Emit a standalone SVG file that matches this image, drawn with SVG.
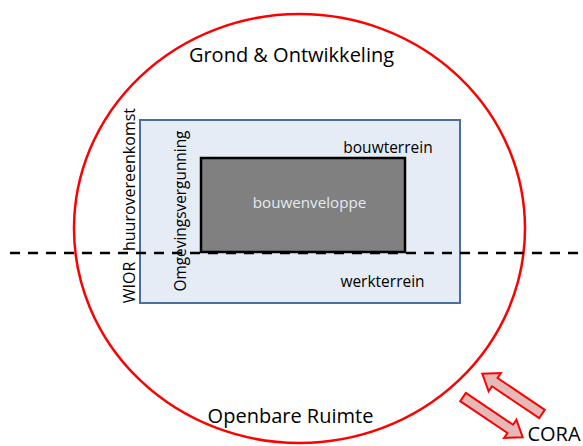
<svg xmlns="http://www.w3.org/2000/svg" width="583" height="446" viewBox="0 0 583 446">
<style>
text{font-family:"Open Sans","Liberation Sans",sans-serif;fill:#000}
.big{font-size:20px}
.mid{font-size:15.5px}
.arr{fill:#e6b9b8;stroke:#ff0000;stroke-width:2;stroke-linejoin:miter}
</style>
<defs>
<polygon id="blk" points="0,-5 57,-5 57,-11 72,0 57,11 57,5 0,5"/>
</defs>
<rect width="583" height="446" fill="#fff"/>
<g id="domain">
<ellipse cx="299.5" cy="228.5" rx="225.5" ry="214.5" fill="none" stroke="#ff0000" stroke-width="2.5"/>
<text class="big" x="291.5" y="62" text-anchor="middle">Grond &amp; Ontwikkeling</text>
<text class="big" x="290.5" y="423" text-anchor="middle">Openbare Ruimte</text>
</g>
<g id="werkterrein">
<rect x="140" y="120" width="320" height="183" fill="#e6ecf6" stroke="#4a6e9e" stroke-width="2"/>
<text class="mid" x="382.5" y="287" text-anchor="middle">werkterrein</text>
<text class="mid" x="388" y="153" text-anchor="middle">bouwterrein</text>
</g>
<g id="bouwenveloppe">
<rect x="201" y="158" width="204" height="94" fill="#808080" stroke="#000" stroke-width="2.5"/>
<text x="309.5" y="208" text-anchor="middle" style="fill:#e4eaf2;font-size:15.2px">bouwenveloppe</text>
</g>
<g id="labels">
<text transform="translate(135,282.5) rotate(-90)" text-anchor="middle" style="font-size:16px">WIOR</text>
<text transform="translate(135,179.5) rotate(-90)" text-anchor="middle" style="font-size:16px">huurovereenkomst</text>
<text transform="translate(186,211) rotate(-90)" text-anchor="middle" style="font-size:15.4px">Omgevingsvergunning</text>
</g>
<g id="connectors">
<line x1="10" y1="253" x2="583" y2="253" stroke="#000" stroke-width="2.5" stroke-dasharray="10,8"/>
<use href="#blk" class="arr" transform="translate(542,414) rotate(214)"/>
<use href="#blk" class="arr" transform="translate(463,397) rotate(34)"/>
</g>
<g id="cora">
<text x="554" y="441" text-anchor="middle" style="font-size:20px">CORA</text>
</g>
</svg>
